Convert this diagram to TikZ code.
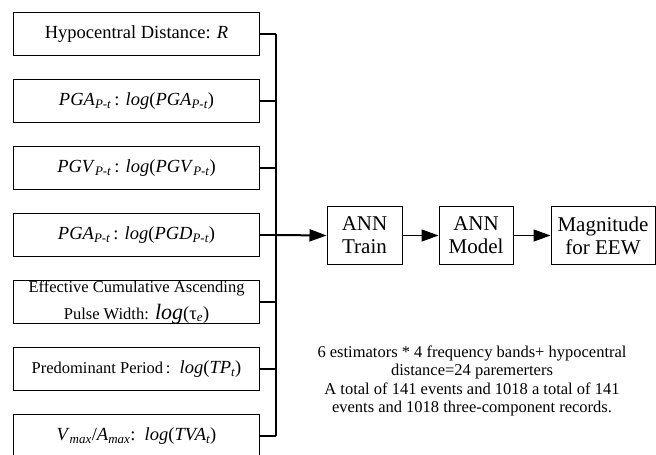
\documentclass[tikz,border=0pt]{standalone}
\usepackage{fontspec}
\setmainfont{Liberation Serif}
\usetikzlibrary{arrows.meta}
\newcommand{\fsz}[2]{\fontsize{#1}{#2}\selectfont}
\newcommand{\sbi}[1]{\textsubscript{\itshape #1}}
\begin{document}
\begin{tikzpicture}[x=1pt,y=-1pt,
  inbox/.style={draw, line width=1pt, minimum width=246pt, minimum height=43pt,
    inner sep=0pt, anchor=north west, align=center, font=\fsz{18.5}{20}},
  flowbox/.style={draw, line width=1pt, minimum height=58pt, inner sep=0pt,
    align=center, font=\fsz{21}{23}},
  feed/.style={line width=1.5pt},
  bus/.style={line width=2pt},
  flow/.style={line width=1.5pt, -{Triangle[length=17pt,width=12pt]}},
  mainflow/.style={line width=2pt, -{Triangle[length=17pt,width=12pt]}}]
\useasboundingbox (0,0) rectangle (656,455);

\node[inbox] (b1) at (13,12) {Hypocentral Distance: \textit{R}};
\node[inbox] (b2) at (13,79) {\textit{PGA}\sbi{P-t}\,: \textit{log}(\textit{PGA}\sbi{P-t})};
\node[inbox] (b3) at (13,146) {\textit{PGV}\sbi{P-t}\,: \textit{log}(\textit{PGV}\sbi{P-t})};
\node[inbox] (b4) at (13,213) {\textit{PGA}\sbi{P-t}\,: \textit{log}(\textit{PGD}\sbi{P-t})};
\node[inbox] (b5) at (13,280) {{\fsz{16.5}{18}Effective Cumulative Ascending}\\[7pt]
  {\fsz{16.5}{18}Pulse Width:} {\fsz{22}{24}\textit{log}}(τ\sbi{e})};
\node[inbox] (b6) at (13,347) {{\fsz{16.5}{18}Predominant Period\,:}\ \ \textit{log}(\textit{TP}\sbi{t})};
\node[inbox] (b7) at (13,414) {\textit{V}\sbi{max}/\textit{A}\sbi{max}:\ \ \textit{log}(\textit{TVA}\sbi{t})};

\coordinate (bt) at (276,33.5);
\coordinate (bb) at (276,435.5);
\draw[bus] (bt) -- (bb);
\foreach \i in {1,...,7} { \draw[feed] (b\i.east) -- (b\i.east -| bt); }

\node[flowbox, minimum width=75pt] (train) at (364.5,235.5) {ANN\\Train};
\node[flowbox, minimum width=74pt] (model) at (476,235.5) {ANN\\Model};
\node[flowbox, minimum width=104pt] (mag) at (603,235.5) {Magnitude\\for EEW};

\draw[mainflow] (b4.east -| bt) -- (train.west);
\draw[flow] (train) -- (model);
\draw[flow] (model) -- (mag);

\node[align=center, font=\fsz{16.5}{18.5}] (note) at (472,381)
  {6 estimators * 4 frequency bands+ hypocentral\\
   distance=24 paremerters\\
   A total of 141 events and 1018 a total of 141\\
   events and 1018 three-component records.};
\end{tikzpicture}
\end{document}
